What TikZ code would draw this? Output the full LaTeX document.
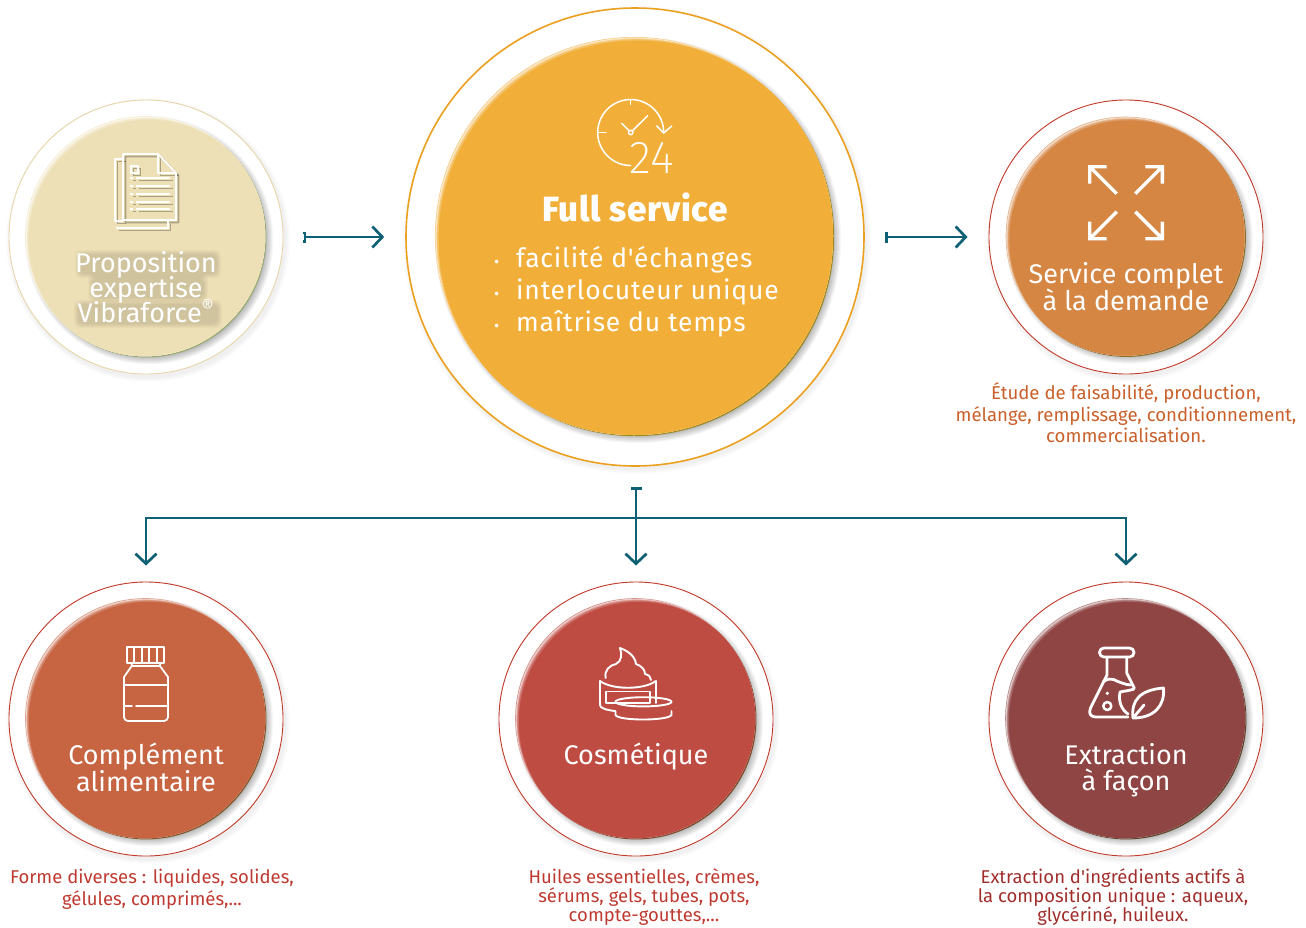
\documentclass[tikz,border=0pt]{standalone}
\usepackage{fontspec}
\setmainfont[Ligatures=TeXOff]{Fira Sans}
\newfontfamily\fullboldfont[LetterSpace=2]{Fira Sans ExtraBold}
\lineskiplimit=-100pt
\usetikzlibrary{arrows.meta}
\definecolor{teal1}{HTML}{0E6074}
\definecolor{cProp}{HTML}{EEE0B6}
\definecolor{cFull}{HTML}{F1AF3A}
\definecolor{cServ}{HTML}{D58643}
\definecolor{cComp}{HTML}{C76442}
\definecolor{cCosm}{HTML}{BF4C43}
\definecolor{cExtr}{HTML}{8F4543}
\definecolor{rProp}{HTML}{E8D5A8}
\definecolor{rFull}{HTML}{EBA01F}
\definecolor{rRed}{HTML}{C23A2A}
\definecolor{tOrange}{HTML}{C9602A}
\definecolor{tRed}{HTML}{BE3A30}
\definecolor{tDark}{HTML}{A02F2C}
\newcommand{\softdisc}[4]{% x y r colour
  \foreach \k in {0,...,7}{
    \fill[black,opacity=.035] ({#1+4},{#2+4}) circle[radius={#3+4-\k}];
  }
  \fill[#4!72!black!90!green] ({#1+1.2},{#2+1.2}) circle[radius={#3}];
  \fill[#4!65!white] ({#1},{#2}) circle[radius={#3}];
  \begin{scope}
    \clip ({#1},{#2}) circle[radius={#3}];
    \foreach \k/\m in {1/78,2/60,3/40,4/20,6/0}{
      \fill[#4!\the\numexpr100-\m\relax!white] ({#1+\k*.6},{#2+\k*.6}) circle[radius={#3}];
    }
  \end{scope}
}
\tikzset{
  ring/.style={circle,draw=#1,line width=.9pt,fill=white,minimum size=274pt,inner sep=0pt},
  link/.style={draw=teal1,line width=2.7pt,{Bar[width=11pt,length=3pt]}-{Straight Barb[length=10pt,width=21pt,line width=2.7pt]}},
  branch/.style={draw=teal1,line width=2.7pt,-{Straight Barb[length=10pt,width=21pt,line width=2.7pt]}},
  icon/.style={draw=white,line width=1.9pt,line join=round,line cap=round},
  iconthin/.style={draw=white,line width=1.5pt,line join=round,line cap=round},
  title/.style={white,align=center,font=\fontsize{27}{26.5}\selectfont},
  caption/.style={align=center,inner sep=0pt},
}
\begin{document}
\begin{tikzpicture}[x=1pt,y=-1pt]
\useasboundingbox (0,0) rectangle (1306,927);
% rings
\foreach \x/\y/\r in {146/237/137,635/237/229,1126/237/137,146/719/137,636/719/137,1126/719/137}{
  \foreach \k in {0,...,4}{\fill[black,opacity=.012] ({\x+2},{\y+3}) circle[radius={\r+5-\k}];}
}
\node[ring=rProp] (prop) at (146,237) {};
\node[ring=rFull,minimum size=458pt,line width=1.6pt] (full) at (635,237) {};
\node[ring=rRed] (serv) at (1126,237) {};
\node[ring=rRed] (comp) at (146,719) {};
\node[ring=rRed] (cosm) at (636,719) {};
\node[ring=rRed] (extr) at (1126,719) {};
% discs
\softdisc{145.2}{236.2}{120}{cProp}
\softdisc{634}{236}{199}{cFull}
\softdisc{1125.2}{236.2}{119.5}{cServ}
\softdisc{145.2}{718.2}{120}{cComp}
\softdisc{635.2}{718.2}{120}{cCosm}
\softdisc{1125.2}{718.2}{120}{cExtr}
% connectors
\draw[link,shorten <=20pt,shorten >=21pt] (prop.east) -- (full.west);
\draw[link,shorten <=20pt,shorten >=21pt] (full.east) -- (serv.west);
\coordinate (bus) at (636,518);
\draw[link,shorten <=20pt,shorten >=16pt] (full.south -| cosm.north) -- (cosm.north);
\draw[branch,shorten >=16pt] (bus) -| (comp.north);
\draw[branch,shorten >=16pt] (bus) -| (extr.north);
% document icon (with its shadow)
\foreach \dx/\col/\op in {2.5/black/.28,0/white/1}{
\begin{scope}[shift={(\dx,\dx)},opacity=\op]
  \draw[line width=1.8pt,line join=round,draw=\col] (123,221)--(115,221)--(115,159)--(123,159);
  \draw[line width=1.8pt,draw=\col] (116,228)--(168,228)--(168,221);
  \draw[line width=1.8pt,line join=round,draw=\col] (123,154)--(158,154)--(176,173)--(176,220)--(123,220)--cycle;
  \draw[line width=1.8pt,line join=round,draw=\col] (158,154)--(158,173)--(176,173);
  \draw[line width=1.8pt,draw=\col] (131,166) rectangle (138,173);
  \foreach \yy in {178,186,194,202,209}{
    \draw[line width=1.8pt,draw=\col] (130,\yy)--(133,\yy) (136,\yy)--(170,\yy);
  }
\end{scope}}
% clock icon
\draw[iconthin] (630.7,165.5) arc[start angle=90,end angle=360,radius=33];
\draw[iconthin] (656.7,126)--(663.7,133)--(671.7,126);
\draw[iconthin] (630.7,100)--(630.7,104.5) (597.7,132.5)--(606,132.5);
\draw[iconthin] (632.4,130.8)--(647.7,115.7) (629.2,130.8)--(621.7,123.3);
\draw[iconthin] (630.7,132.5) circle[radius=2.2];
\node[white,inner sep=0pt] (n24) at (651.5,158) {\fontsize{46}{46}\selectfont\fontspec{Fira Sans ExtraLight}24};
% expand icon
\foreach \cx/\cy/\sx/\sy in {1089.7/166.7/1/1,1162.3/166.7/-1/1,1089.7/238.7/1/-1,1162.3/238.7/-1/-1}{
  \draw[draw=white,line width=3.4pt,line join=miter]
    ({\cx+\sx*17},\cy)--(\cx,\cy)--(\cx,{\cy+\sy*17}) (\cx,\cy)--({\cx+\sx*27},{\cy+\sy*27});
}
% bottle icon
\draw[iconthin,line width=1.8pt] (126.7,646.7) rectangle (164,662.7);
\draw[iconthin,line width=1.8pt] (134,646.7)--(134,662.7) (141.7,646.7)--(141.7,662.7) (149,646.7)--(149,662.7) (156.7,646.7)--(156.7,662.7);
\draw[iconthin,line width=1.8pt] (131.7,662.7)--(131.7,666)--(124,677)--(124,717) arc[start angle=180,end angle=90,radius=4] --(164,721) arc[start angle=90,end angle=0,radius=4] --(168,677)--(160,666)--(160,662.7);
\draw[iconthin,line width=1.8pt] (131.7,666)--(160,666) (124,685)--(168,685) (124,706)--(132,706) (136,706)--(168,706);
% cream icon
\draw[icon] (600,681)--(600,705) .. controls (600,708) and (606,710) .. (615,711);
\draw[icon] (655.7,681)--(655.7,703);
\draw[icon] (600,681) .. controls (612,690) and (644,690) .. (655.7,681);
\draw[icon] (605.7,691.5) rectangle (650,703);
\draw[icon] (605.7,678) .. controls (604,670) and (610,665) .. (616,664) .. controls (622,661) and (622,654) .. (620,648) .. controls (628,651) and (635,656) .. (636,664) .. controls (642,666) and (645,670) .. (645,674) .. controls (649,675) and (651,677) .. (651,680);
\fill[cCosm] (615.5,711) rectangle (671.5,716);
\fill[cCosm] (643.5,711) ellipse[x radius=28,y radius=4.6];
\draw[icon] (643.5,706.4) arc[start angle=90,end angle=450,x radius=28,y radius=4.6];
\draw[icon] (615.5,711)--(615.5,715) .. controls (618,721) and (668,721) .. (671.5,715)--(671.5,711);
% flask icon
\draw[icon,line width=2.8pt,rounded corners=4.4pt] (1099.5,648) rectangle (1134,657);
\draw[icon,line width=2.8pt] (1107,657)--(1107,675)--(1090.5,708) .. controls (1088,714) and (1091,717) .. (1096,717)--(1128,717);
\draw[icon,line width=2.8pt] (1126.7,657)--(1126.7,673)--(1134.3,688);
\draw[icon,line width=2.8pt] (1103,682) .. controls (1112,675) and (1116,682) .. (1122,683) .. controls (1125,684) and (1128,685) .. (1131,685);
\draw[icon,line width=2.5pt] (1107.3,706) circle[radius=4];
\fill[white] (1107.3,693.3) circle[radius=1.8];
\draw[icon,line width=2.8pt] (1133,718) .. controls (1131,700) and (1140,690) .. (1163.5,688) .. controls (1165,705) and (1155,718) .. (1133,718);
\draw[icon,line width=2.8pt] (1133,718)--(1144,705);
\draw[icon,line width=2.8pt] (1134,689) .. controls (1128,691) and (1124,691) .. (1120,692) .. controls (1118,702) and (1122,710) .. (1128,714);
% soft shade behind the white label of the first disc
\foreach \yy/\ww in {264/138,288/112,314/140}{
  \foreach \k in {0,...,4}{
    \fill[black!70!cProp,opacity=.035,rounded corners=6pt] ({148-\ww/2-\k},{\yy-10-\k}) rectangle ({148+\ww/2+\k},{\yy+10+\k});
  }
}
% texts
\node[title,font=\fontsize{27}{25}\selectfont] (tprop) at (146,287) {Proposition\\expertise\\Vibraforce\textsuperscript{®}};
\node[white,font=\fontsize{35}{35}\selectfont\fullboldfont,inner sep=0pt] (tfull) at (635,207.5) {Full service};
\node[white,align=left,anchor=west,inner sep=0pt,font=\fontsize{26.5}{32}\selectfont\addfontfeatures{LetterSpace=3}] (tlist) at (494,292) {\makebox[22pt][l]{\fontsize{16}{16}\selectfont •}facilité d'échanges\\\makebox[22pt][l]{\fontsize{16}{16}\selectfont •}interlocuteur unique\\\makebox[22pt][l]{\fontsize{16}{16}\selectfont •}maîtrise du temps};
\node[title] (tserv) at (1126,286.5) {Service complet\\à la demande};
\node[title] (tcomp) at (146,767.5) {Complément\\alimentaire};
\node[title] (tcosm) at (636,757) {Cosmétique};
\node[title] (textr) at (1126,770) {Extraction\\à façon};
\node[caption,text=tOrange,font=\fontsize{18.6}{21.5}\selectfont] (cserv) at (1126,413) {Étude de faisabilité, production,\\mélange, remplissage, conditionnement,\\commercialisation.};
\node[caption,text=tRed,font=\fontsize{18.5}{22}\selectfont] (ccomp) at (152,889) {Forme diverses : liquides, solides,\\gélules, comprimés,...};
\node[caption,text=tRed,font=\fontsize{18.5}{19}\selectfont] (ccosm) at (644,897) {Huiles essentielles, crèmes,\\sérums, gels, tubes, pots,\\compte-gouttes,...};
\node[caption,text=tDark,font=\fontsize{18.5}{19}\selectfont] (cextr) at (1113,897) {Extraction d'ingrédients actifs à\\la composition unique : aqueux,\\glycériné, huileux.};
\end{tikzpicture}
\end{document}
